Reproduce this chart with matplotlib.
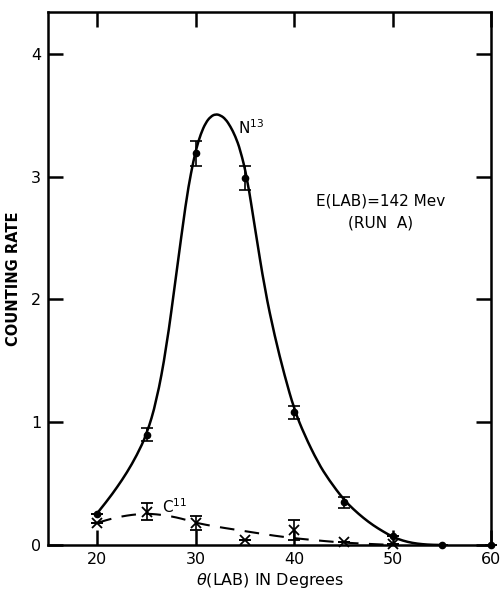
import matplotlib
matplotlib.use('Agg')
import matplotlib.pyplot as plt
from matplotlib.path import Path
from matplotlib.patches import PathPatch

plt.rcParams['font.family'] = ['DejaVu Sans']

# measured points
n13_theta = [20, 25, 30, 35, 40, 45, 50, 55, 60]
n13_rate = [0.25, 0.90, 3.19, 2.99, 1.08, 0.35, 0.07, 0.0, 0.0]
n13_err = [0.0, 0.05, 0.10, 0.10, 0.05, 0.045, 0.0, 0.0, 0.0]

c11_theta = [20, 25, 30, 35, 40, 45, 50]
c11_rate = [0.18, 0.27, 0.18, 0.04, 0.12, 0.025, 0.01]
c11_err = [0.0, 0.07, 0.055, 0.0, 0.08, 0.0, 0.0]

# hand-drawn curves
n13_curve_x = [19.9, 21, 22, 23, 24, 25, 26, 27, 28, 29, 29.5, 30, 30.5, 31, 31.5,
               32, 32.5, 33, 33.5, 34, 34.5, 35.2, 36, 37, 38, 39, 40, 41, 42.4,
               43.5, 45, 46, 47, 48, 49, 50, 51, 52, 53, 54, 55]
n13_curve_y = [0.25, 0.36, 0.47, 0.59, 0.73, 0.90, 1.17, 1.60, 2.20, 2.80, 3.03, 3.22, 3.35,
               3.44, 3.49, 3.51, 3.50, 3.47, 3.41, 3.33, 3.22, 2.99, 2.58, 2.08, 1.70, 1.38,
               1.10, 0.90, 0.67, 0.53, 0.37, 0.29, 0.22, 0.16, 0.11, 0.065, 0.035, 0.016, 0.006,
               0.001, 0.0]

c11_curve_x = [20, 21, 22, 23, 24, 25, 26, 27, 28, 29, 30, 32, 34, 36, 38, 40, 42, 44, 46, 48, 50]
c11_curve_y = [0.18, 0.205, 0.225, 0.24, 0.25, 0.255, 0.25, 0.24, 0.225, 0.205, 0.18, 0.15,
               0.125, 0.10, 0.075, 0.055, 0.04, 0.025, 0.015, 0.007, 0.0]


def smooth_path(xs, ys):
    # quadratic bezier: read points act as control points, midpoints lie on the curve
    pts = list(zip(xs, ys))
    verts = [pts[0]]
    codes = [Path.MOVETO]
    for i in range(1, len(pts) - 1):
        mid = ((pts[i][0] + pts[i + 1][0]) / 2, (pts[i][1] + pts[i + 1][1]) / 2)
        if i == len(pts) - 2:
            mid = pts[-1]
        verts += [pts[i], mid]
        codes += [Path.CURVE3, Path.CURVE3]
    return Path(verts, codes)


fig = plt.figure(figsize=(5.01, 5.94), dpi=100)
ax = fig.add_axes([0.096, 0.0825, 0.885, 0.897])

ax.add_patch(PathPatch(smooth_path(n13_curve_x, n13_curve_y), fill=False,
                       edgecolor='k', linewidth=1.8))
ax.add_patch(PathPatch(smooth_path(c11_curve_x, c11_curve_y), fill=False,
                       edgecolor='k', linewidth=1.5, linestyle=(0, (7, 5))))

ax.errorbar(n13_theta, n13_rate, yerr=n13_err, fmt='o', color='k', markersize=4.5,
            elinewidth=1.2, capsize=4, capthick=1.2, clip_on=False, zorder=5)
ax.errorbar(c11_theta, c11_rate, yerr=c11_err, fmt='x', color='k', markersize=7,
            mew=1.3, elinewidth=1.2, capsize=4, capthick=1.2, clip_on=False, zorder=5)

ax.set_xlim(15, 60)
ax.set_ylim(0, 4.34)
ax.set_xticks([20, 30, 40, 50, 60])
ax.set_yticks([0, 1, 2, 3, 4])
ax.tick_params(direction='in', length=11, width=1.8, top=True, right=True,
               labelsize=11.5, pad=5)
for s in ax.spines.values():
    s.set_linewidth(1.8)

ax.text(34.3, 3.40, r'N$^{13}$', fontsize=11, ha='left', va='center')
ax.text(26.6, 0.31, r'C$^{11}$', fontsize=11, ha='left', va='center')
ax.text(48.7, 2.80, 'E(LAB)=142 Mev', fontsize=11, ha='center', va='center')
ax.text(48.7, 2.62, '(RUN  A)', fontsize=11, ha='center', va='center')

ax.set_ylabel('COUNTING RATE', fontsize=10.5, fontweight='bold', labelpad=7)
ax.set_xlabel(r'$\theta$(LAB) IN Degrees', fontsize=11.5, labelpad=3)

fig.savefig('out.png', dpi=100)
